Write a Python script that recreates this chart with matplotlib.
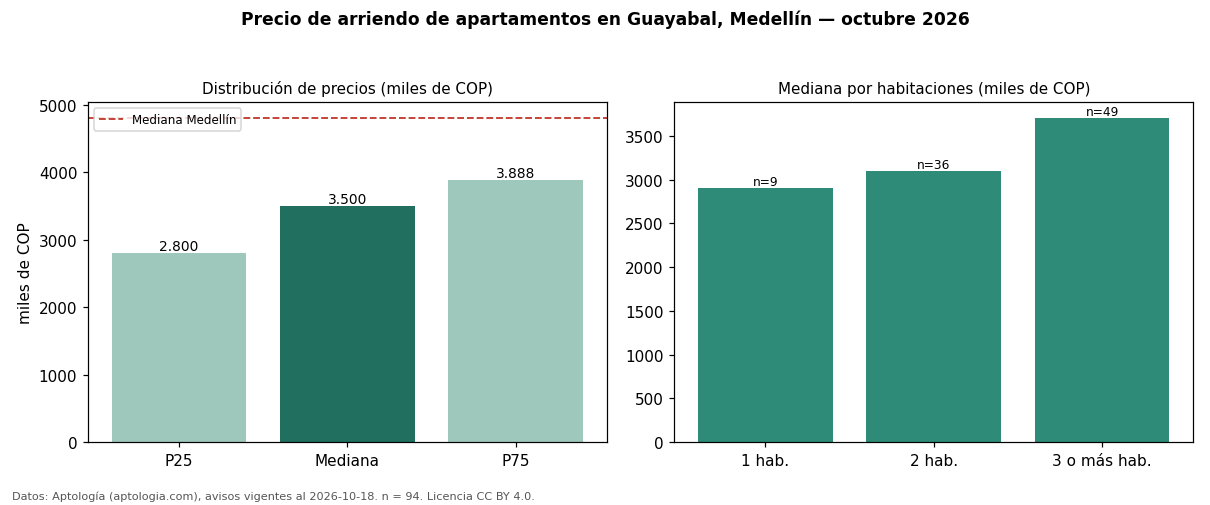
import matplotlib.pyplot as plt

plt.rcParams['font.family'] = ['DejaVu Sans']

# datos
stats_labels = ['P25', 'Mediana', 'P75']
stats_values = [2800, 3500, 3888]
stats_text = ['2.800', '3.500', '3.888']
mediana_medellin = 4800

hab_labels = ['1 hab.', '2 hab.', '3 o más hab.']
hab_values = [2900, 3100, 3700]
hab_n = [9, 36, 49]

light = '#9fc8bc'
dark = '#206f5f'
mid = '#2e8b77'

fig, (ax1, ax2) = plt.subplots(1, 2, figsize=(11, 4.6), dpi=110)
fig.subplots_adjust(left=0.0727, right=0.986, top=0.796, bottom=0.1245, wspace=0.131)

fig.suptitle('Precio de arriendo de apartamentos en Guayabal, Medellín — octubre 2026',
             fontsize=11.2, fontweight='bold', y=0.98)

# panel izquierdo
bars = ax1.bar(stats_labels, stats_values, color=[light, dark, light])
for b, t in zip(bars, stats_text):
    ax1.text(b.get_x() + b.get_width() / 2, b.get_height(), t,
             ha='center', va='bottom', fontsize=9)
ax1.axhline(mediana_medellin, color='#c0392b', linestyle='--', linewidth=1.2,
            label='Mediana Medellín')
ax1.set_ylim(0, max(max(stats_values), mediana_medellin) * 1.05)
ax1.set_ylabel('miles de COP')
ax1.set_title('Distribución de precios (miles de COP)', fontsize=9.9)
ax1.legend(loc='upper left', fontsize=7.8)

# panel derecho
bars2 = ax2.bar(hab_labels, hab_values, color=mid)
for b, n in zip(bars2, hab_n):
    ax2.text(b.get_x() + b.get_width() / 2, b.get_height(), 'n=' + str(n),
             ha='center', va='bottom', fontsize=8)
ax2.set_ylim(0, max(hab_values) * 1.05)
ax2.set_title('Mediana por habitaciones (miles de COP)', fontsize=9.9)

fig.text(0.01, 0.012, 'Datos: Aptología (aptologia.com), avisos vigentes al 2026-10-18. n = 94. Licencia CC BY 4.0.',
         fontsize=7.35, color='#555555')

fig.savefig('out.png', dpi=110)
